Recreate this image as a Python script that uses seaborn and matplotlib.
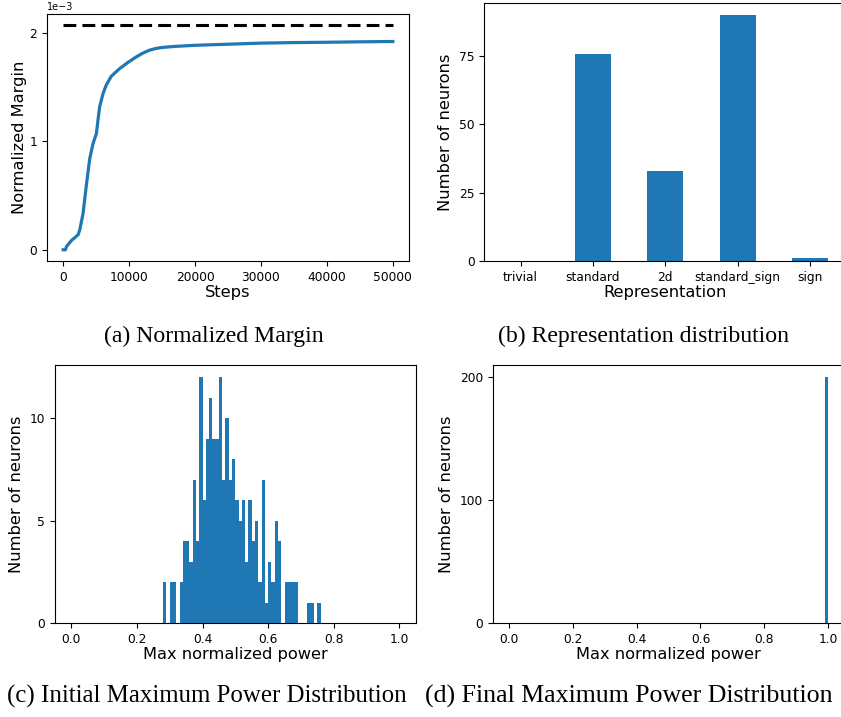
import numpy as np
import pandas as pd
import matplotlib
matplotlib.use("Agg")
import matplotlib.pyplot as plt
import seaborn as sns

# ---------------- data ----------------
# (a) normalized margin vs training steps
steps = [0, 350, 500, 1260, 2266, 2518, 3021, 3525, 4028, 4532, 5035, 5287,
         5540, 6042, 6546, 7300, 8560, 9820, 11000, 12000, 13000, 14000,
         15000, 17000, 20000, 25000, 30000, 35000, 40000, 45000, 50000]
margin = [0.0, 0.0, 0.03, 0.086, 0.138, 0.184, 0.337, 0.60, 0.84, 0.98, 1.07,
          1.20, 1.32, 1.44, 1.52, 1.60, 1.67, 1.727, 1.775, 1.81, 1.838, 1.855,
          1.865, 1.875, 1.885, 1.895, 1.905, 1.91, 1.913, 1.917, 1.92]  # x1e-3
bound_steps = [0, 50000]
bound_margin = [2.07, 2.07]  # x1e-3

# (b) representation distribution
representations = ["trivial", "standard", "2d", "standard_sign", "sign"]
rep_counts = [0, 76, 33, 90, 1]

# (c) initial max normalized power histogram (bins of width 0.01 starting at 0.28)
init_bin_start = 0.28
init_counts = [2, 0, 2, 2, 0, 2, 4, 4, 3, 7, 4, 12, 6, 9, 11, 9, 9, 12, 7, 10,
               7, 8, 6, 5, 6, 3, 6, 4, 5, 2, 7, 1, 3, 2, 5, 4, 0, 2, 2, 2,
               2, 0, 0, 0, 1, 1, 0, 1]

# (d) final max normalized power
final_values = [1.0]
final_counts = [200]

n_bins = 100
# --------------------------------------

blue = "#1f77b4"
plt.rcParams["font.family"] = ["DejaVu Sans"]
TICK = 8.8
LAB = 11.7

fig = plt.figure(figsize=(8.41, 7.17), dpi=100)
W, H = 841.0, 717.0

def add_ax(l, r, t, b):
    return fig.add_axes([l / W, 1 - b / H, (r - l) / W, (b - t) / H])

width = 1.0 / n_bins

# (a)
ax1 = add_ax(46.7, 409.3, 14, 261)
df_a = pd.DataFrame({"Steps": steps, "m": np.array(margin) * 1e-3})
sns.lineplot(data=df_a, x="Steps", y="m", ax=ax1, color=blue, linewidth=2.3)
ax1.plot(bound_steps, np.array(bound_margin) * 1e-3, color="black",
         linewidth=2.2, dashes=(4.2, 2.0))
ax1.set_yticks([0, 1e-3, 2e-3])
ax1.ticklabel_format(axis="y", style="sci", scilimits=(0, 0))
ax1.set_xticks([0, 10000, 20000, 30000, 40000, 50000])
ax1.set_xlabel("Steps", fontsize=LAB, labelpad=1)
ax1.set_ylabel("Normalized Margin", fontsize=LAB, labelpad=1.5)
ax1.tick_params(labelsize=TICK)
ax1.yaxis.get_offset_text().set_fontsize(7)

# (b)
ax2 = add_ax(484.3, 846.4, 3, 261)
df_b = pd.DataFrame({"Representation": representations, "n": rep_counts})
sns.barplot(data=df_b, x="Representation", y="n", ax=ax2, color=blue,
            saturation=1, width=0.5)
ax2.set_xlim(-0.5, len(representations) - 0.5)
ax2.set_ylim(0, max(rep_counts) * 1.05)
ax2.set_yticks([0, 25, 50, 75])
ax2.set_xlabel("Representation", fontsize=LAB, labelpad=1)
ax2.set_ylabel("Number of neurons", fontsize=LAB, labelpad=4)
ax2.tick_params(labelsize=TICK)

# (c)
ax3 = add_ax(54.9, 415.7, 365, 623.3)
df_c = pd.DataFrame({
    "v": [init_bin_start + width * (i + 0.5) for i in range(len(init_counts))],
    "w": init_counts,
})
sns.histplot(data=df_c, x="v", weights="w", bins=n_bins, binrange=(0, 1),
             ax=ax3, color=blue, alpha=1, linewidth=0, element="bars")
ax3.set_xlim(-0.05, 1.05)
ax3.set_ylim(0, max(init_counts) * 1.05)
ax3.set_yticks([0, 5, 10])
ax3.set_xticks([0, 0.2, 0.4, 0.6, 0.8, 1.0])
ax3.set_xlabel("Max normalized power", fontsize=LAB, labelpad=1)
ax3.set_ylabel("Number of neurons", fontsize=LAB, labelpad=4)
ax3.tick_params(labelsize=TICK)

# (d)
ax4 = add_ax(492.7, 844.3, 365, 623.3)
df_d = pd.DataFrame({"v": final_values, "w": final_counts})
sns.histplot(data=df_d, x="v", weights="w", bins=n_bins, binrange=(0, 1),
             ax=ax4, color=blue, alpha=1, linewidth=0, element="bars")
ax4.set_xlim(-0.05, 1.05)
ax4.set_ylim(0, max(final_counts) * 1.05)
ax4.set_yticks([0, 100, 200])
ax4.set_xticks([0, 0.2, 0.4, 0.6, 0.8, 1.0])
ax4.set_xlabel("Max normalized power", fontsize=LAB, labelpad=1)
ax4.set_ylabel("Number of neurons", fontsize=LAB, labelpad=4)
ax4.tick_params(labelsize=TICK)

# captions
cap = dict(family="Liberation Serif", ha="center", va="center")
fig.text(214 / W, 1 - 336 / H, "(a) Normalized Margin", fontsize=17.1, **cap)
fig.text(644 / W, 1 - 336 / H, "(b) Representation distribution", fontsize=17.1, **cap)
fig.text(206.5 / W, 1 - 696 / H, "(c) Initial Maximum Power Distribution", fontsize=17.9, **cap)
fig.text(628.7 / W, 1 - 696 / H, "(d) Final Maximum Power Distribution", fontsize=18.6, **cap)

fig.savefig("out.png", dpi=100)
